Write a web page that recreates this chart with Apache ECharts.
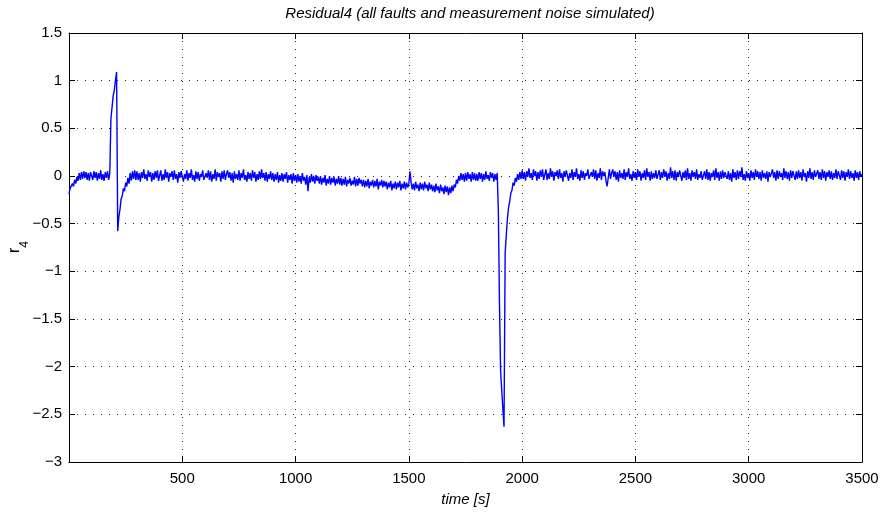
<!DOCTYPE html>
<html>
<head>
<meta charset="utf-8">
<script src="https://cdn.jsdelivr.net/npm/echarts@6/dist/echarts.min.js"></script>
<style>
html,body{margin:0;padding:0;background:#fff;}
#chart{width:883px;height:514px;}
</style>
</head>
<body>
<div id="chart"></div>
<script>
// Residual r4, one value every 5 s, one row per 100 s
const sampleStep = 5;
const xTicks = [500, 1000, 1500, 2000, 2500, 3000, 3500];
const yTicks = [-3, -2.5, -2, -1.5, -1, -0.5, 0, 0.5, 1, 1.5];

// 0 .. 995 s
const r4Start = [
  [-0.19,-0.13,-0.15,-0.08,-0.11,-0.04,-0.08,-0.01,-0.05,0.03,-0.04,0.04,-0.03,0.05,-0.02,0.04,-0.04,0.03,-0.05,0.04],
  [0.03,-0.04,0.05,-0.02,0.04,-0.05,0.03,-0.03,0.06,-0.04,0.02,-0.05,0.04,-0.02,0.05,-0.04,0.03,0.60,0.72,0.84],
  [0.90,1.00,1.09,-0.58,-0.43,-0.35,-0.24,-0.21,-0.13,-0.16,-0.07,-0.11,-0.02,-0.08,0.03,-0.05,0.05,-0.03,0.06,-0.04],
  [0.05,-0.04,0.03,-0.06,0.04,-0.02,0.07,-0.03,0.02,-0.05,0.06,-0.01,0.04,-0.06,0.03,-0.04,0.05,-0.02,0.06,-0.05],
  [-0.03,0.06,-0.05,0.02,-0.04,0.07,-0.02,0.04,-0.06,0.03,-0.01,0.05,-0.04,0.06,-0.03,0.02,-0.07,0.04,-0.02,0.05],
  [0.04,-0.06,0.02,-0.03,0.06,-0.05,0.03,-0.02,0.07,-0.04,0.01,-0.06,0.05,-0.03,0.04,-0.05,0.02,-0.01,0.06,-0.04],
  [-0.05,0.03,-0.02,0.06,-0.04,0.05,-0.06,0.02,-0.03,0.07,-0.05,0.04,-0.01,0.03,-0.06,0.05,-0.03,0.06,-0.04,0.02],
  [0.06,-0.02,0.04,-0.05,0.03,-0.07,0.05,-0.03,0.02,-0.04,0.06,-0.05,0.03,-0.02,0.07,-0.04,0.01,-0.06,0.04,-0.03],
  [0.03,-0.05,0.06,-0.02,0.04,-0.06,0.02,-0.04,0.05,-0.03,0.07,-0.02,0.03,-0.05,0.04,-0.06,0.02,-0.03,0.05,-0.04],
  [0.03,-0.06,0.02,-0.04,0.04,-0.07,0.01,-0.05,0.03,-0.06,0.02,-0.03,0.04,-0.07,0.01,-0.04,0.02,-0.08,0.03,-0.05]
];

// 1000 .. 1995 s
const r4Middle = [
  [0.01,-0.07,0.02,-0.06,0.00,-0.08,0.03,-0.05,-0.01,-0.09,0.01,-0.16,-0.01,-0.07,0.02,-0.06,0.00,-0.08,0.01,-0.05],
  [-0.01,-0.08,0.00,-0.09,-0.02,-0.07,0.01,-0.10,-0.03,-0.08,0.00,-0.09,-0.02,-0.07,-0.01,-0.10,-0.03,-0.08,0.00,-0.09],
  [-0.02,-0.10,-0.03,-0.09,-0.01,-0.11,-0.04,-0.08,-0.02,-0.10,-0.05,-0.09,-0.01,-0.11,-0.03,-0.10,-0.02,-0.08,-0.04,-0.11],
  [-0.04,-0.12,-0.05,-0.11,-0.03,-0.13,-0.06,-0.10,-0.04,-0.12,-0.05,-0.11,-0.03,-0.14,-0.06,-0.10,-0.04,-0.12,-0.05,-0.11],
  [-0.06,-0.14,-0.07,-0.12,-0.05,-0.15,-0.08,-0.13,-0.06,-0.14,-0.07,-0.12,-0.05,-0.15,-0.08,-0.13,-0.06,-0.14,-0.07,-0.12],
  [-0.08,0.05,-0.07,-0.14,-0.08,-0.15,-0.06,-0.13,-0.09,-0.16,-0.07,-0.14,-0.08,-0.15,-0.06,-0.13,-0.09,-0.16,-0.07,-0.14],
  [-0.09,-0.16,-0.10,-0.17,-0.08,-0.15,-0.11,-0.18,-0.09,-0.16,-0.12,-0.19,-0.10,-0.17,-0.11,-0.20,-0.12,-0.18,-0.10,-0.16],
  [-0.09,-0.12,-0.04,-0.08,0.00,-0.05,0.03,-0.04,0.02,-0.06,0.03,-0.05,0.04,-0.03,0.02,-0.06,0.04,-0.04,0.03,-0.05],
  [0.02,-0.05,0.04,-0.03,0.03,-0.06,0.02,-0.04,0.05,-0.03,0.01,-0.05,0.04,-0.02,0.03,-0.06,0.02,-0.04,0.03,-0.37],
  [-1.35,-2.05,-2.25,-2.45,-2.63,-0.81,-0.62,-0.45,-0.33,-0.27,-0.18,-0.15,-0.07,-0.10,-0.02,-0.06,0.02,-0.04,0.04,-0.03]
];

// 2000 .. 3500 s
const r4End = [
  [0.06,-0.03,0.04,-0.05,0.05,-0.01,0.08,-0.02,0.03,-0.04,0.07,0.00,0.05,-0.05,0.04,-0.03,0.06,-0.01,0.07,-0.04],
  [-0.02,0.07,-0.04,0.03,-0.03,0.08,-0.01,0.05,-0.05,0.04,0.00,0.06,-0.03,0.07,-0.02,0.03,-0.06,0.05,-0.01,0.06],
  [0.05,-0.05,0.03,-0.02,0.07,-0.04,0.04,-0.01,0.08,-0.03,0.02,-0.05,0.06,-0.02,0.05,-0.04,0.03,0.00,0.07,-0.03],
  [-0.04,0.04,-0.01,0.07,-0.03,0.06,-0.05,0.03,-0.02,0.08,-0.04,0.05,0.00,0.04,-0.05,-0.11,-0.02,0.07,-0.03,0.03],
  [0.07,-0.01,0.05,-0.04,0.04,-0.06,0.06,-0.02,0.03,-0.03,0.07,-0.04,0.04,-0.01,0.08,-0.03,0.02,-0.05,0.05,-0.02],
  [0.04,-0.04,0.07,-0.01,0.05,-0.05,0.03,-0.02,0.06,-0.04,0.08,-0.01,0.04,-0.05,0.05,-0.03,0.03,-0.02,0.06,-0.03],
  [-0.03,0.06,-0.04,0.04,-0.02,0.07,-0.01,0.05,-0.05,0.03,-0.03,0.09,-0.02,0.05,-0.04,0.06,-0.05,0.04,-0.01,0.06],
  [0.05,-0.05,0.04,-0.02,0.06,-0.04,0.08,-0.03,0.03,-0.05,0.06,-0.01,0.04,-0.03,0.07,-0.04,0.02,-0.02,0.05,-0.04],
  [-0.02,0.05,-0.03,0.07,-0.04,0.04,-0.05,0.03,-0.01,0.06,-0.04,0.08,-0.02,0.04,-0.05,0.05,-0.03,0.06,-0.02,0.04],
  [0.06,-0.03,0.05,-0.04,0.03,-0.06,0.07,-0.02,0.04,-0.04,0.06,-0.03,0.05,-0.01,0.09,-0.04,0.02,-0.05,0.05,-0.02],
  [0.03,-0.05,0.06,-0.02,0.04,-0.04,0.07,-0.01,0.05,-0.03,0.04,-0.05,0.06,-0.02,0.03,-0.03,0.05,-0.06,0.04,-0.01],
  [-0.03,0.07,-0.02,0.04,-0.05,0.06,-0.03,0.05,-0.01,0.03,-0.04,0.08,-0.02,0.05,-0.03,0.04,-0.05,0.06,-0.02,0.05],
  [0.04,-0.04,0.05,-0.03,0.06,-0.02,0.04,-0.05,0.07,-0.01,0.03,-0.06,0.05,-0.02,0.08,-0.03,0.04,-0.04,0.06,-0.01],
  [-0.02,0.06,-0.03,0.04,-0.04,0.07,-0.02,0.05,-0.05,0.04,-0.01,0.06,-0.03,0.05,-0.04,0.03,-0.02,0.07,-0.03,0.05],
  [0.03,-0.04,0.06,-0.02,0.05,-0.05,0.04,-0.01,0.07,-0.03,0.05,-0.02,0.03,-0.05,0.06,-0.02,0.04,-0.04,0.05,-0.01],
  [0.02]
];

const segments = [
  { start: 0, rows: r4Start },
  { start: 1000, rows: r4Middle },
  { start: 2000, rows: r4End }
];

const points = [];
segments.forEach(seg => {
  seg.rows.forEach((row, ri) => {
    row.forEach((v, j) => {
      points.push([seg.start + ri * 100 + j * sampleStep, v]);
    });
  });
});

const FONT = 'Liberation Sans, Arial, Helvetica, sans-serif';
const fmtNum = v => String(v).replace('-', '\u2212');
const dotted = { color: '#222', width: 1, type: [1, 7] };

const chart = echarts.init(document.getElementById('chart'), null, { renderer: 'canvas' });
chart.setOption({
  animation: false,
  backgroundColor: '#fff',
  title: {
    text: 'Residual4 (all faults and measurement noise simulated)',
    left: 465, top: 1, textAlign: 'center',
    textStyle: { fontFamily: FONT, fontSize: 15, fontStyle: 'italic', fontWeight: 'normal', color: '#000' }
  },
  graphic: [{
    type: 'text',
    x: 19, y: 247,
    rotation: Math.PI / 2,
    silent: true,
    style: {
      text: '{r|r}{s|4}',
      align: 'center', verticalAlign: 'middle',
      fill: '#000',
      rich: {
        r: { fontFamily: FONT, fontSize: 16, fill: '#000', verticalAlign: 'top', lineHeight: 16 },
        s: { fontFamily: FONT, fontSize: 12, fill: '#000', verticalAlign: 'bottom', lineHeight: 24 }
      }
    }
  }],
  grid: { left: 69, right: 21, top: 33, bottom: 52, containLabel: false, outerBoundsMode: 'none', show: false },
  xAxis: [{
    type: 'value', min: 0, max: 3500, interval: 500,
    axisLine: { show: true, onZero: false, lineStyle: { color: '#000', width: 1 } },
    axisTick: { show: true, inside: true, length: 6, lineStyle: { color: '#000' } },
    axisLabel: {
      color: '#000', fontFamily: FONT, fontSize: 15, margin: 9,
      formatter: v => (xTicks.indexOf(v) >= 0 ? fmtNum(v) : '')
    },
    splitLine: { show: true, lineStyle: dotted },
    name: 'time [s]', nameLocation: 'middle', nameGap: 30,
    nameTextStyle: { fontFamily: FONT, fontSize: 15, fontStyle: 'italic', color: '#000' }
  }, {
    type: 'value', position: 'top', min: 0, max: 3500, interval: 500,
    axisLine: { show: true, onZero: false, lineStyle: { color: '#000', width: 1 } },
    axisTick: { show: true, inside: true, length: 6, lineStyle: { color: '#000' } },
    axisLabel: { show: false }, splitLine: { show: false }
  }],
  yAxis: [{
    type: 'value', min: -3, max: 1.5, interval: 0.5,
    axisLine: { show: true, onZero: false, lineStyle: { color: '#000', width: 1 } },
    axisTick: { show: true, inside: true, length: 6, lineStyle: { color: '#000' } },
    axisLabel: {
      color: '#000', fontFamily: FONT, fontSize: 15, margin: 7,
      formatter: v => (yTicks.indexOf(v) >= 0 ? fmtNum(v) : '')
    },
    splitLine: { show: true, lineStyle: dotted }
  }, {
    type: 'value', position: 'right', min: -3, max: 1.5, interval: 0.5,
    axisLine: { show: true, onZero: false, lineStyle: { color: '#000', width: 1 } },
    axisTick: { show: true, inside: true, length: 6, lineStyle: { color: '#000' } },
    axisLabel: { show: false }, splitLine: { show: false }
  }],
  series: [{
    type: 'line',
    data: points,
    xAxisIndex: 0, yAxisIndex: 0,
    showSymbol: false, symbol: 'none',
    lineStyle: { color: '#0000ff', width: 1.4 },
    sampling: null,
    silent: true
  }]
});
</script>
</body>
</html>
